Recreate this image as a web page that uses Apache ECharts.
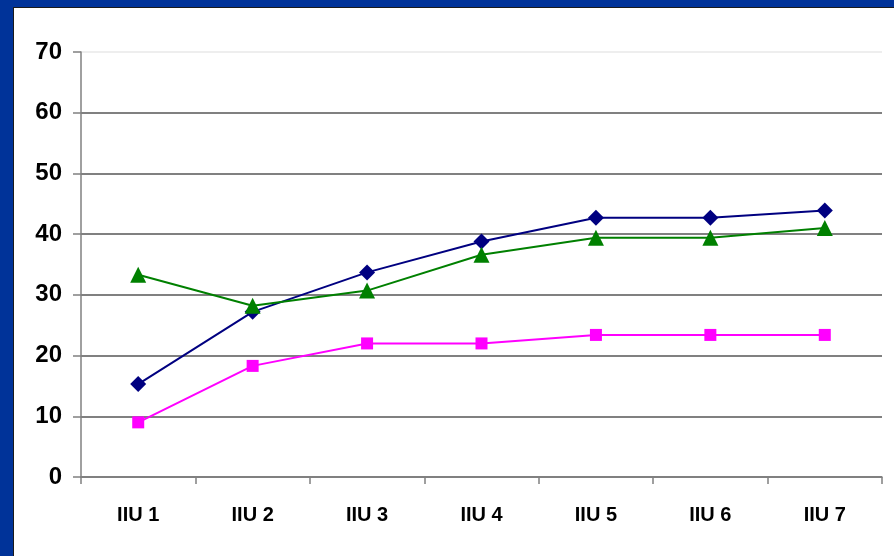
<!DOCTYPE html>
<html>
<head>
<meta charset="utf-8">
<script src="https://cdn.jsdelivr.net/npm/echarts@6/dist/echarts.min.js"></script>
<style>
  html, body { margin: 0; padding: 0; }
  body { width: 894px; height: 556px; background: #003399; position: relative; overflow: hidden; }
  #main {
    position: absolute; left: 13px; top: 7px; width: 880px; height: 548px;
    background: #ffffff; border-left: 1px solid #1a1a1a; border-top: 1px solid #1a1a1a;
  }
</style>
</head>
<body>
<div id="main"></div>
<script>
// categories and values
var categories = ['IIU 1', 'IIU 2', 'IIU 3', 'IIU 4', 'IIU 5', 'IIU 6', 'IIU 7'];
var navySeries = [15.3, 27.2, 33.7, 38.8, 42.7, 42.7, 43.9];
var magentaSeries = [9.0, 18.3, 22.0, 22.0, 23.4, 23.4, 23.4];
var greenSeries = [33.3, 28.2, 30.7, 36.6, 39.4, 39.4, 41.0];
var yTicks = [0, 10, 20, 30, 40, 50, 60, 70];

var chart = echarts.init(document.getElementById('main'));

var labelFont = {
    color: '#000',
    fontFamily: 'Liberation Sans, Arial, sans-serif',
    fontWeight: 'bold'
};

var option = {
    animation: false,
    grid: {
        left: 67,
        top: 44,
        right: 12,
        bottom: 79
    },
    xAxis: {
        type: 'category',
        data: categories,
        boundaryGap: true,
        axisLine: { lineStyle: { color: '#808080', width: 1.5 } },
        axisTick: { show: true, length: 7, lineStyle: { color: '#808080', width: 1.5 } },
        axisLabel: Object.assign({ fontSize: 20, margin: 28 }, labelFont),
        splitLine: { show: false }
    },
    yAxis: {
        type: 'value',
        min: yTicks[0],
        max: yTicks[yTicks.length - 1],
        interval: 10,
        axisLine: { show: true, lineStyle: { color: '#808080', width: 1.5 } },
        axisTick: { show: true, length: 8, lineStyle: { color: '#808080', width: 1.5 } },
        axisLabel: Object.assign({ fontSize: 24, margin: 19 }, labelFont),
        splitLine: {
            lineStyle: {
                color: ['#808080', '#808080', '#808080', '#808080', '#808080', '#808080', '#808080', '#eeeeee'],
                width: 2
            }
        }
    },
    series: [{
        name: 'navy',
        type: 'line',
        data: navySeries,
        symbol: 'diamond',
        symbolSize: 16,
        lineStyle: { color: '#000080', width: 2 },
        itemStyle: { color: '#000080' }
    }, {
        name: 'magenta',
        type: 'line',
        data: magentaSeries,
        symbol: 'rect',
        symbolSize: 12,
        lineStyle: { color: '#ff00ff', width: 2 },
        itemStyle: { color: '#ff00ff' }
    }, {
        name: 'green',
        type: 'line',
        data: greenSeries,
        symbol: 'triangle',
        symbolSize: 16,
        lineStyle: { color: '#008000', width: 2 },
        itemStyle: { color: '#008000' }
    }]
};

chart.setOption(option);
</script>
</body>
</html>
